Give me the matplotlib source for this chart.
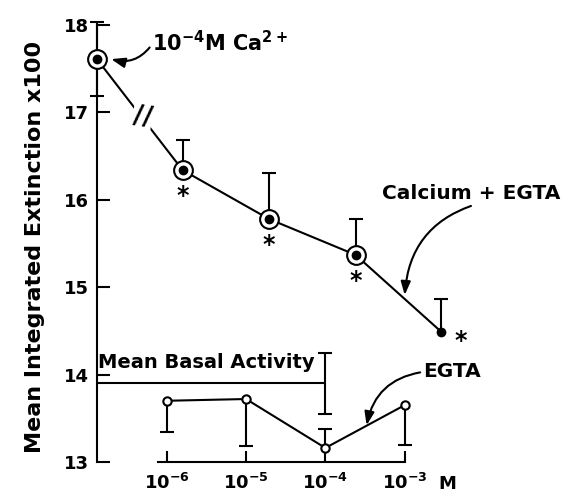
import matplotlib
matplotlib.use("Agg")
import matplotlib.pyplot as plt

plt.rcParams["font.family"] = ["DejaVu Sans"]
plt.rcParams["font.weight"] = "bold"
plt.rcParams["axes.labelweight"] = "bold"
plt.rcParams["mathtext.fontset"] = "dejavusans"
plt.rcParams["mathtext.default"] = "bf"

# -------- data (x = log10 concentration) --------
ca_x = -6.88          # 10^-4 M Ca2+ reference point, drawn on the y axis
ca_y = 17.61
ca_err = 0.42

calc_x = [-5.80, -4.71, -3.62, -2.54]   # Calcium + EGTA (plotted offset in the original)
calc_y = [16.34, 15.78, 15.37, 14.49]
calc_err = [0.34, 0.53, 0.41, 0.38]      # upper bars only

egta_x = [-6, -5, -4, -3]
egta_y = [13.70, 13.72, 13.16, 13.65]
egta_err = [0.36, 0.54, 0.22, 0.46]
egta_err_dir = [-1, -1, 1, -1]

basal_y = 13.90
basal_err = 0.35
basal_end = -4

xticks = [-6, -5, -4, -3]
xtick_labels = [r"$10^{-6}$", r"$10^{-5}$", r"$10^{-4}$", r"$10^{-3}$"]
yticks = [13, 14, 15, 16, 17, 18]

lw = 1.5
cap = 10

fig = plt.figure(figsize=(5.70, 4.93), dpi=100)
ax = fig.add_axes([0.170, 0.063, 0.707, 0.927])
ax.set_xlim(-6.88, -1.80)
ax.set_ylim(13, 18.23)

for s in ["top", "right"]:
    ax.spines[s].set_visible(False)
ax.spines["left"].set_bounds(13, 18)
ax.spines["bottom"].set_bounds(-6.11, -3)
ax.spines["left"].set_linewidth(lw)
ax.spines["bottom"].set_linewidth(lw)

ax.set_yticks(yticks)
ax.set_xticks(xticks)
ax.set_xticklabels(xtick_labels)
ax.tick_params(axis="y", direction="in", length=9, width=lw, pad=6, labelsize=13)
ax.tick_params(axis="x", direction="in", length=8, width=lw, pad=8, labelsize=13)
ax.annotate("M", xy=(-3, 13), xytext=(24, -16), textcoords="offset points",
            ha="left", va="center", fontsize=13, annotation_clip=False)

ax.set_ylabel("Mean Integrated Extinction x100", fontsize=16)
ax.yaxis.set_label_coords(-0.13, 0.47)


def up_bar(x, y, e, d):
    end = y + d * e
    ax.vlines(x, y, end, color="black", lw=lw, zorder=2, clip_on=False)
    ax.plot([x], [end], marker="_", ms=cap, mew=lw, color="black", zorder=2,
            clip_on=False)


# -------- Calcium + EGTA curve --------
line_x = [ca_x] + calc_x
line_y = [ca_y] + calc_y
ax.plot(line_x, line_y, color="black", lw=lw, zorder=3, clip_on=False)

up_bar(ca_x, ca_y, ca_err, 1)
up_bar(ca_x, ca_y, ca_err, -1)
for x, y, e in zip(calc_x, calc_y, calc_err):
    up_bar(x, y, e, 1)

ring_x = [ca_x] + calc_x[:3]
ring_y = [ca_y] + calc_y[:3]
ax.plot(ring_x, ring_y, ls="none", marker="o", ms=13.5, mfc="white",
        mec="black", mew=lw, zorder=4, clip_on=False)
ax.plot(line_x, line_y, ls="none", marker="o", ms=6, color="black", zorder=5,
        clip_on=False)

# significance stars
for x, y in zip(calc_x[:3], calc_y[:3]):
    ax.annotate("*", xy=(x, y), xytext=(0, -19), textcoords="offset points",
                ha="center", va="center", fontsize=17)
ax.annotate("*", xy=(calc_x[3], calc_y[3]), xytext=(14, -7), textcoords="offset points",
            ha="center", va="center", fontsize=17)

# axis break mark
t = 0.53
bx = ca_x + t * (calc_x[0] - ca_x)
by = ca_y + t * (calc_y[0] - ca_y)
ax.text(bx, by, "//", ha="center", va="center", fontsize=19, rotation=-8,
        bbox=dict(facecolor="white", edgecolor="none", pad=0), zorder=6)

# -------- basal activity --------
ax.hlines(basal_y, -6.88, basal_end, color="black", lw=lw)
up_bar(basal_end, basal_y, basal_err, 1)
up_bar(basal_end, basal_y, basal_err, -1)
ax.text(-6.86, basal_y + 0.24, "Mean Basal Activity", ha="left", va="center", fontsize=14)

# -------- EGTA curve --------
ax.plot(egta_x, egta_y, color="black", lw=lw, zorder=3)
for x, y, e, d in zip(egta_x, egta_y, egta_err, egta_err_dir):
    up_bar(x, y, e, d)
ax.plot(egta_x, egta_y, ls="none", marker="o", ms=6, mfc="white", mec="black",
        mew=lw, zorder=4, clip_on=False)

# -------- labels with arrows --------
arrow = dict(arrowstyle="-|>,head_length=0.55,head_width=0.2", color="black",
             lw=lw, shrinkA=0, shrinkB=0)
ax.annotate(r"$10^{-4}$M Ca$^{2+}$", xy=(ca_x + 0.18, ca_y), xytext=(-6.18, 17.80),
            ha="left", va="center", fontsize=15,
            arrowprops=dict(arrow, connectionstyle="arc3,rad=-0.35", relpos=(0, 0.45)))
ax.annotate("Calcium + EGTA", xy=(-3.0, 14.91), xytext=(-3.29, 16.07),
            ha="left", va="center", fontsize=14.5,
            arrowprops=dict(arrow, connectionstyle="arc3,rad=0.35", relpos=(0.55, 0)))
ax.annotate("EGTA", xy=(-3.48, 13.42), xytext=(-2.77, 14.03),
            ha="left", va="center", fontsize=14.5,
            arrowprops=dict(arrow, connectionstyle="arc3,rad=0.35", relpos=(0, 0.5)))

fig.savefig("out.png", dpi=100)
